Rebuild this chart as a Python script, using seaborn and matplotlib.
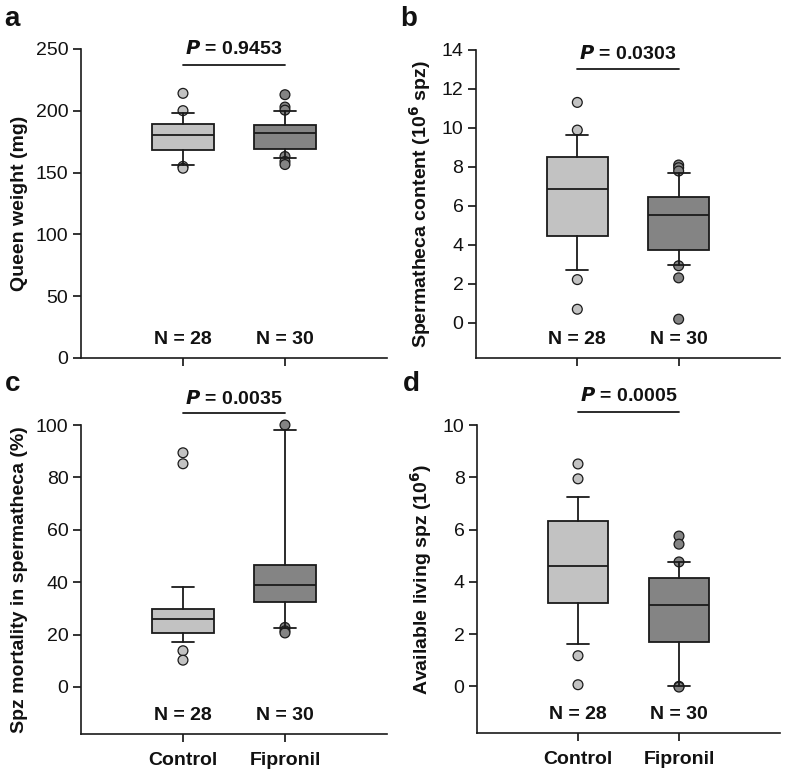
import matplotlib
matplotlib.use("Agg")
import matplotlib.pyplot as plt
import seaborn as sns
import pandas as pd

groups = ["Control", "Fipronil"]
n_labels = ["N = 28", "N = 30"]

# box stats per panel: [Control, Fipronil], whiskers are 10th/90th percentiles
weight_q1 = [168.6, 168.8]
weight_med = [180.4, 182.0]
weight_q3 = [189.6, 188.5]
weight_lo = [155.9, 162.0]
weight_hi = [198.0, 200.1]
weight_out = [[214.1, 200.1, 155.0, 153.5], [213.0, 203.0, 200.5, 163.0, 159.0, 156.5]]

spz_q1 = [4.47, 3.73]
spz_med = [6.86, 5.51]
spz_q3 = [8.52, 6.47]
spz_lo = [2.69, 2.98]
spz_hi = [9.65, 7.70]
spz_out = [[11.31, 9.89, 2.22, 0.70], [8.10, 7.96, 7.79, 2.93, 2.31, 0.19]]

mort_q1 = [20.6, 32.5]
mort_med = [26.0, 38.9]
mort_q3 = [29.9, 46.4]
mort_lo = [17.1, 22.5]
mort_hi = [38.3, 98.1]
mort_out = [[89.4, 85.2, 13.8, 10.2], [100.0, 22.7, 21.4, 20.6]]

living_q1 = [3.19, 1.70]
living_med = [4.61, 3.13]
living_q3 = [6.33, 4.13]
living_lo = [1.63, 0.0]
living_hi = [7.23, 4.74]
living_out = [[8.51, 7.94, 1.17, 0.06], [5.75, 5.44, 4.76, 0.0, -0.03]]

p_texts = ["0.9453", "0.0303", "0.0035", "0.0005"]

sns.set_theme(style="ticks")
plt.rcParams["font.family"] = ["Liberation Sans", "DejaVu Sans"]
plt.rcParams.update({"text.color": "#111111", "axes.labelcolor": "#111111",
                     "xtick.color": "#111111", "ytick.color": "#111111"})

box_colors = ["#c2c2c2", "#848484"]
edge = "#1a1a1a"

fig = plt.figure(figsize=(7.87, 7.76), dpi=100)

panels = [
    dict(letter="a", rect=[0.1029, 0.5387, 0.3888, 0.3982],
         stats=(weight_q1, weight_med, weight_q3, weight_lo, weight_hi, weight_out),
         ylim=(0, 250), yticks=range(0, 251, 50), ylabel="Queen weight (mg)",
         bar_y=237, p_y=250, xlabels=False),
    dict(letter="b", rect=[0.6048, 0.5387, 0.3863, 0.3969],
         stats=(spz_q1, spz_med, spz_q3, spz_lo, spz_hi, spz_out),
         ylim=(-1.8, 14), yticks=range(0, 15, 2),
         ylabel="Spermatheca content (10$^{\\mathbf{6}}$ spz)",
         bar_y=13.0, p_y=13.8, xlabels=False),
    dict(letter="c", rect=[0.1029, 0.0541, 0.3888, 0.3982],
         stats=(mort_q1, mort_med, mort_q3, mort_lo, mort_hi, mort_out),
         ylim=(-18, 100), yticks=range(0, 101, 20),
         ylabel="Spz mortality in spermatheca (%)",
         bar_y=104.5, p_y=110, xlabels=True),
    dict(letter="d", rect=[0.6061, 0.055, 0.385, 0.3973],
         stats=(living_q1, living_med, living_q3, living_lo, living_hi, living_out),
         ylim=(-1.8, 10), yticks=range(0, 11, 2),
         ylabel="Available living spz (10$^{\\mathbf{6}}$)",
         bar_y=10.5, p_y=11.1, xlabels=True),
]

letter_pos = {"a": (0.006, 0.975), "b": (0.508, 0.975), "c": (0.006, 0.505), "d": (0.512, 0.505)}

for k, pan in enumerate(panels):
    ax = fig.add_axes(pan["rect"])
    q1, med, q3, lo, hi, out = pan["stats"]
    bstats = []
    for i in range(2):
        bstats.append(dict(q1=q1[i], med=med[i], q3=q3[i], whislo=lo[i], whishi=hi[i], fliers=[]))

    # outliers drawn first so the caps sit on top
    rows = []
    for i, vals in enumerate(out):
        for v in vals:
            rows.append({"x": i + 1, "y": v, "group": groups[i]})
    odf = pd.DataFrame(rows)
    sns.scatterplot(data=odf, x="x", y="y", hue="group", palette=box_colors,
                    s=50, edgecolor=edge, linewidth=0.9, legend=False, ax=ax,
                    zorder=2, clip_on=False)

    bp = ax.bxp(bstats, positions=[1, 2], widths=0.6, capwidths=0.22, patch_artist=True,
                showfliers=False,
                boxprops=dict(edgecolor=edge, linewidth=1.3),
                medianprops=dict(color=edge, linewidth=1.3),
                whiskerprops=dict(color=edge, linewidth=1.3),
                capprops=dict(color=edge, linewidth=1.3))
    for patch, c in zip(bp["boxes"], box_colors):
        patch.set_facecolor(c)
        patch.set_zorder(1)
    for key in ("whiskers", "caps", "medians"):
        for ln in bp[key]:
            ln.set_zorder(3)

    ax.set_xlim(0, 3)
    ax.set_ylim(*pan["ylim"])
    ax.set_yticks(list(pan["yticks"]))
    ax.set_xticks([1, 2])
    if pan["xlabels"]:
        ax.set_xticklabels(groups, fontsize=14, fontweight="bold")
    else:
        ax.set_xticklabels([])
    ax.tick_params(axis="y", labelsize=14, length=6, width=1.2, direction="out", pad=3)
    ax.tick_params(axis="x", length=6, width=1.2, direction="out", pad=7)
    for s in ("top", "right"):
        ax.spines[s].set_visible(False)
    for s in ("left", "bottom"):
        ax.spines[s].set_linewidth(1.2)
        ax.spines[s].set_color("#1a1a1a")
    ax.set_xlabel("")
    ax.set_ylabel(pan["ylabel"], fontsize=14, fontweight="bold", labelpad=6)

    for i, lab in enumerate(n_labels):
        ax.text(i + 1, 0.06, lab, transform=ax.get_xaxis_transform(), ha="center",
                va="center", fontsize=14, fontweight="bold")

    ax.plot([1, 2], [pan["bar_y"], pan["bar_y"]], color=edge, lw=1.3, clip_on=False)
    ax.text(1.5, pan["p_y"], "$\\mathbfit{P}$ = " + p_texts[k], ha="center", va="center",
            fontsize=14, fontweight="bold", clip_on=False)

    lx, ly = letter_pos[pan["letter"]]
    fig.text(lx, ly, pan["letter"], fontsize=20, fontweight="bold", ha="left", va="center")

fig.savefig("out.png", dpi=100)
